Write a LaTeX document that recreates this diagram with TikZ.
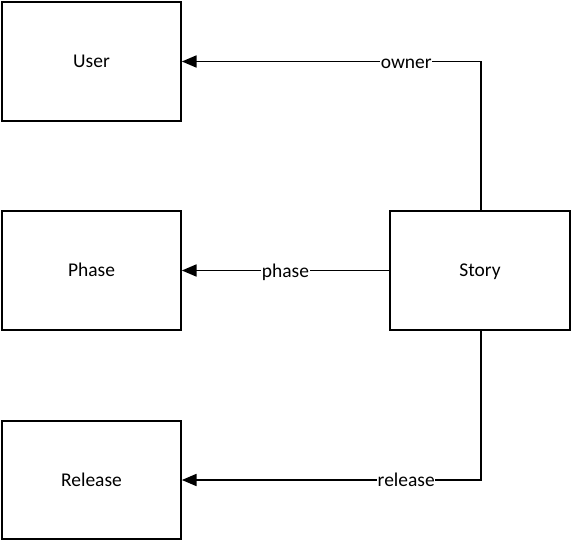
\documentclass[tikz,border=0pt]{standalone}
\usepackage{fontspec}
\setmainfont{Carlito}
\usetikzlibrary{arrows.meta}
\begin{document}
\begin{tikzpicture}[x=0.75pt,y=-0.75pt,
  ent/.style={draw=black,line width=1.5pt,minimum width=134pt,minimum height=89pt,inner sep=0pt,text height=9.4pt,text depth=0pt,font=\fontsize{14.6}{17}\selectfont},
  rel/.style={draw=black,line width=1.25pt,-{Triangle[length=11pt,width=9pt]}},
  lbl/.style={fill=white,inner sep=0.5pt,text height=10pt,text depth=3.2pt,anchor=center,yshift=-1.8pt,font=\fontsize{14.6}{17}\selectfont}]
\useasboundingbox (0,0) rectangle (572,542);
\node[ent] (user) at (91.5,61.5) {User};
\node[ent] (phase) at (91.5,270.5) {Phase};
\node[ent] (release) at (91.5,480) {Release};
\node[ent,minimum width=135pt] (story) at (480,270.5) {Story};
\coordinate (c1) at (481,61.5);
\coordinate (c2) at (481,480);
\draw[rel] (story.north -| c1) -- (c1) -- node[lbl,pos=0.25]{owner} (user.east);
\draw[rel] (story.west) -- node[lbl,pos=0.5]{phase} (phase.east);
\draw[rel] (story.south -| c2) -- (c2) -- node[lbl,pos=0.25]{release} (release.east);
\end{tikzpicture}
\end{document}
